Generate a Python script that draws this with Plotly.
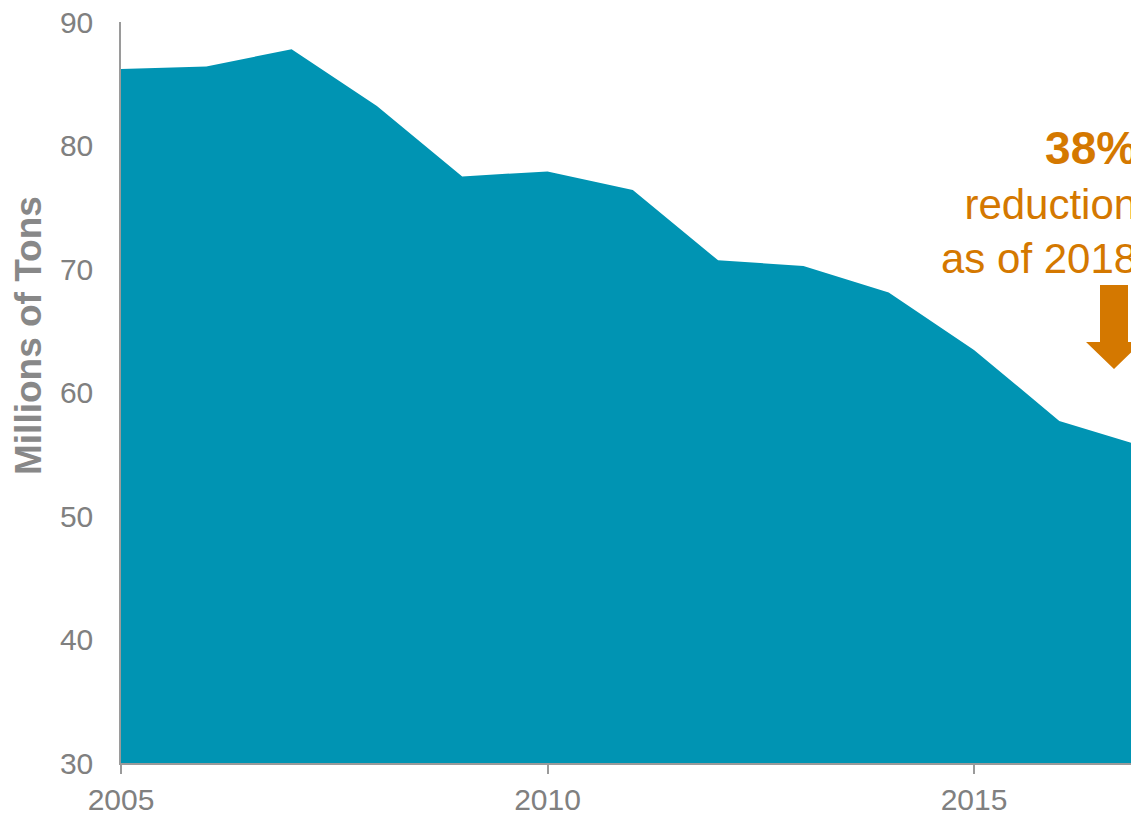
import plotly.graph_objects as go

years = [2005, 2006, 2007, 2008, 2009, 2010, 2011, 2012, 2013, 2014, 2015, 2016, 2017]
emissions = [86.2, 86.4, 87.8, 83.2, 77.5, 77.9, 76.4, 70.7, 70.25, 68.1, 63.45, 57.7, 55.6]
x_ticks = [2005, 2010, 2015]
y_ticks = [30, 40, 50, 60, 70, 80, 90]

W, H = 1131, 815
ML, MR, MT, MB = 121, 0, 22, 52
PW, PH = W - ML - MR, H - MT - MB

FILL = "#0094B3"
ORANGE = "#D47800"
GRAY = "#808080"
FONT = "Liberation Sans, Arial, sans-serif"


def px(xp):
    return (xp - ML) / PW


def py(yp):
    return (H - MB - yp) / PH


fig = go.Figure()
fig.add_trace(go.Scatter(
    x=years, y=emissions, mode="lines", fill="tozeroy",
    line=dict(width=0, color=FILL), fillcolor=FILL, hoverinfo="skip",
))

# arrow decoration (block arrow)
cx, sh, hh = 1114, 14, 28
top, neck, tip = 285, 342, 369
pts = [(cx - sh, top), (cx + sh, top), (cx + sh, neck), (cx + hh, neck),
       (cx, tip), (cx - hh, neck), (cx - sh, neck)]
path = "M " + " L ".join(f"{px(a):.5f},{py(b):.5f}" for a, b in pts) + " Z"
fig.add_shape(type="path", path=path, xref="paper", yref="paper",
              fillcolor=ORANGE, line=dict(width=0), layer="above")

fig.add_annotation(
    text="<b><span style='font-size:46px'>38%</span></b><br>reduction<br>as of 2018",
    xref="paper", yref="paper", x=px(1139), y=py(202),
    xanchor="right", yanchor="middle", align="right", showarrow=False,
    font=dict(family=FONT, size=42, color=ORANGE),
)

fig.add_annotation(
    text="<b>Millions of Tons</b>", textangle=-90,
    xref="paper", yref="paper", x=px(28), y=py(336),
    xanchor="center", yanchor="middle", showarrow=False,
    font=dict(family=FONT, size=37, color="#888888"),
)

fig.update_layout(
    width=W, height=H,
    margin=dict(l=ML, r=MR, t=MT, b=MB, pad=0),
    paper_bgcolor="white", plot_bgcolor="white",
    showlegend=False,
    font=dict(family=FONT, size=30, color=GRAY),
    xaxis=dict(
        range=[2005, 2005 + PW / 85.3], tickvals=x_ticks,
        showgrid=False, zeroline=False, showline=True, automargin=False,
        linecolor="#9a9a9a", linewidth=1.5,
        ticks="outside", ticklen=9, tickcolor="#9a9a9a", tickwidth=1.5,
        ticklabelstandoff=0,
        tickfont=dict(family=FONT, size=30, color=GRAY),
    ),
    yaxis=dict(
        range=[30, 90], tickvals=y_ticks,
        showgrid=False, zeroline=False, showline=True, automargin=False,
        linecolor="#9a9a9a", linewidth=1.5, ticks="",
        ticklabelstandoff=20,
        tickfont=dict(family=FONT, size=30, color=GRAY),
    ),
)

fig.write_html(
    "out.html",
    config={"displayModeBar": False},
    post_script="document.body.style.margin='0';document.body.style.overflow='hidden';",
)
